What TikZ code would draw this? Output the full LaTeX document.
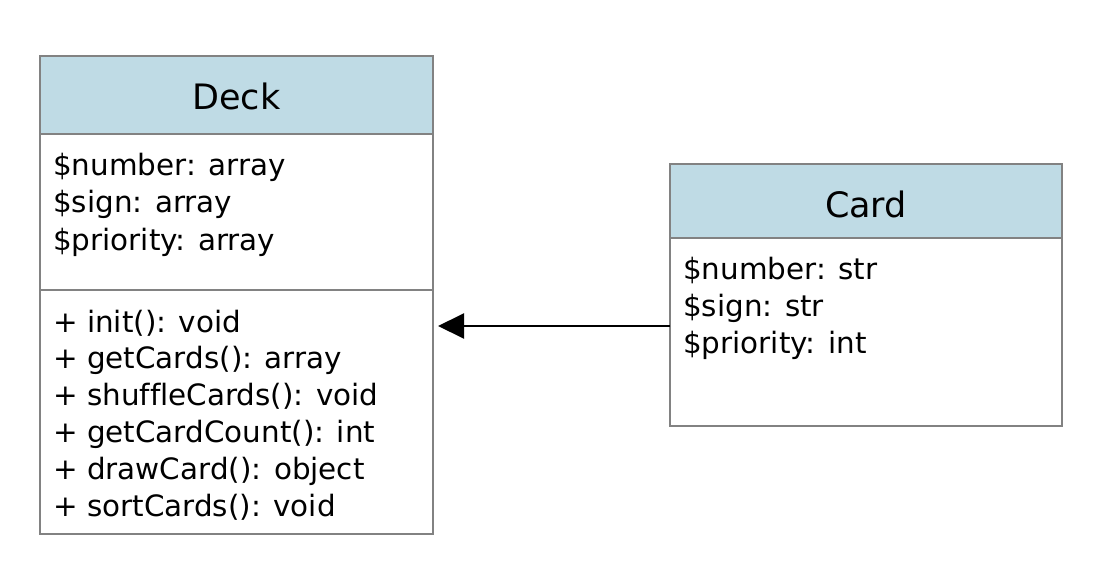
\documentclass[tikz,border=0pt]{standalone}
\usepackage{fontspec}
\setmainfont[Ligatures={NoCommon}]{DejaVu Sans}
\usetikzlibrary{arrows.meta}
\definecolor{hdrblue}{HTML}{BFDBE5}
\definecolor{bordergray}{HTML}{828282}
\tikzset{
  box/.style={draw=bordergray, line width=2pt, fill=white, anchor=north west, inner sep=0pt, outer sep=0pt},
  hdr/.style={box, fill=hdrblue, font=\fontsize{35}{42}\selectfont},
  txt/.style={anchor=base west, inner sep=0pt, font=\fontsize{29.4}{37}\selectfont},
  conn/.style={line width=2pt, -{Triangle[length=26pt,width=25pt]}},
}
\begin{document}
\begin{tikzpicture}[x=1pt,y=-1pt]
\useasboundingbox (0,0) rectangle (1114,584);
% Deck
\node[box, minimum width=393pt, minimum height=478pt] (deck) at (40,56) {};
\node[box, minimum width=393pt, minimum height=156pt] (decka) at (40,134) {};
\node[hdr, minimum width=393pt, minimum height=78pt] (deckh) at (40,56) {};
\node[anchor=base, inner sep=0pt, font=\fontsize{35}{42}\selectfont] (deckt) at (236.5,109) {Deck};
\node[txt] (da1) at (53,175) {\$number: array};
\node[txt] (da2) at (53,212.5) {\$sign: array};
\node[txt] (da3) at (53,250) {\$priority: array};
\node[txt] (dm1) at (53,332) {+ init(): void};
\node[txt] (dm2) at (53,368.8) {+ getCards(): array};
\node[txt] (dm3) at (53,405.6) {+ shuffleCards(): void};
\node[txt] (dm4) at (53,442.4) {+ getCardCount(): int};
\node[txt] (dm5) at (53,479.2) {+ drawCard(): object};
\node[txt] (dm6) at (53,516) {+ sortCards(): void};
% Card
\node[box, minimum width=392pt, minimum height=262pt] (card) at (670,164) {};
\node[hdr, minimum width=392pt, minimum height=74pt] (cardh) at (670,164) {};
\node[anchor=base, inner sep=0pt, font=\fontsize{35}{42}\selectfont] (cardt) at (866,217) {Card};
\node[txt] (ca1) at (683,279) {\$number: str};
\node[txt] (ca2) at (683,316) {\$sign: str};
\node[txt] (ca3) at (683,353) {\$priority: int};
% connector
\coordinate (arr) at (0,326);
\draw[conn, shorten >=5pt] (card.west |- arr) -- (deck.east |- arr);
\end{tikzpicture}
\end{document}
